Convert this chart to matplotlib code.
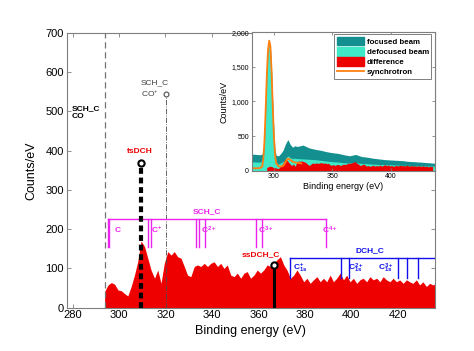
"""Difference spectrum with charge-state brackets, inset of the raw beams."""

import matplotlib
matplotlib.use("Agg")
import matplotlib.pyplot as plt
from matplotlib.patches import Patch
from matplotlib.lines import Line2D
from matplotlib.ticker import FuncFormatter

plt.rcParams["font.family"] = ["Liberation Sans", "DejaVu Sans"]
plt.rcParams["mathtext.fontset"] = "custom"
plt.rcParams["mathtext.rm"] = "Liberation Sans"
plt.rcParams["mathtext.it"] = "Liberation Sans:italic"
plt.rcParams["mathtext.bf"] = "Liberation Sans:bold"

# main difference spectrum (counts/eV)
energy = [293.8, 295.3, 296.7, 298.1, 299.6, 301.0, 302.4, 303.8, 305.3, 306.7,
          308.1, 309.5, 311.0, 312.4, 313.8, 315.3, 316.7, 318.1, 319.5, 321.0,
          322.4, 323.8, 325.2, 326.7, 328.1, 329.5, 330.9, 332.4, 333.8, 335.2,
          336.7, 338.1, 339.5, 340.9, 342.4, 343.8, 345.2, 346.6, 348.1, 349.5,
          350.9, 352.4, 353.8, 355.2, 356.6, 358.1, 359.5, 360.9, 362.3, 363.8,
          365.2, 366.6, 368.0, 369.5, 370.9, 372.3, 373.8, 375.2, 376.6, 378.0,
          379.5, 380.9, 382.3, 383.7, 385.2, 386.6, 388.0, 389.4, 390.9, 392.3,
          393.7, 395.2, 396.6, 398.0, 399.4, 400.9, 402.3, 403.7, 405.1, 406.6,
          408.0, 409.4, 410.9, 412.3, 413.7, 415.1, 416.6, 418.0, 419.4, 420.8,
          422.3, 423.7, 425.1, 426.5, 428.0, 429.4, 430.8, 432.3, 433.7, 435.1,
          436.0]
diff = [41, 58, 64, 60, 45, 43, 36, 30, 55, 84,
        118, 170, 156, 126, 96, 75, 96, 62, 113, 143,
        134, 143, 130, 126, 105, 83, 79, 105, 109, 105,
        113, 105, 113, 117, 105, 113, 100, 109, 83, 79,
        88, 75, 88, 92, 75, 83, 96, 88, 96, 109,
        105, 113, 122, 130, 109, 96, 75, 83, 96, 83,
        66, 75, 62, 71, 79, 66, 75, 66, 83, 66,
        75, 88, 71, 83, 66, 75, 62, 71, 75, 66,
        79, 71, 75, 66, 79, 71, 66, 75, 66, 71,
        62, 71, 66, 62, 71, 58, 66, 54, 62, 58,
        60]

# inset beams
beam_e = [281, 285, 288, 290, 291, 292, 293, 294, 295, 296, 297, 298, 299, 300,
          301, 302, 304, 306, 308, 310, 312, 314, 316, 318, 320, 325, 330, 335,
          340, 345, 350, 355, 360, 365, 370, 375, 380, 385, 390, 395, 400, 405,
          410, 415, 420, 425, 430, 438]
focused = [240, 235, 230, 240, 300, 520, 950, 1430, 1760, 1870, 1810, 1480, 1000,
           560, 300, 220, 215, 250, 300, 390, 450, 380, 340, 360, 350, 370, 330,
           310, 295, 275, 260, 250, 230, 215, 235, 205, 195, 180, 170, 160, 155,
           150, 145, 135, 130, 125, 118, 108]
defocused = [130, 125, 125, 135, 200, 420, 870, 1380, 1730, 1850, 1780, 1440, 950,
             500, 220, 110, 95, 115, 135, 180, 215, 190, 175, 180, 175, 170, 165,
             160, 150, 140, 130, 125, 115, 110, 115, 105, 100, 95, 90, 88, 85,
             80, 78, 75, 72, 70, 68, 65]
sync_e = [281, 285, 288, 290, 291, 292, 293, 294, 295, 296, 297, 298, 299, 300,
          301, 302, 304, 306, 308, 310, 312, 314, 316, 318, 320, 323.5]
sync = [35, 35, 38, 60, 180, 450, 900, 1400, 1750, 1880, 1800, 1450, 950, 500,
        220, 110, 62, 60, 70, 120, 175, 160, 130, 120, 115, 105]

# bracket lines
sch_ticks = [295.2, 295.8, 312.4, 313.8, 333.1, 334.5, 337.0, 359.0, 361.6, 389.2]
sch_labels = [(299.5, r"$\mathbf{C}$"), (316.0, r"$\mathbf{C^{+}}$"),
              (338.5, r"$\mathbf{C^{2+}}$"), (363.0, r"$\mathbf{C^{3+}}$"),
              (390.5, r"$\mathbf{C^{4+}}$")]
dch_ticks = [373.5, 395.6, 398.8, 420.2, 424.0, 428.8]
dch_labels = [(378.0, r"$\mathbf{C^{+}_{1s}}$"), (402.0, r"$\mathbf{C^{2+}_{1s}}$"),
              (415.0, r"$\mathbf{C^{3+}_{1s}}$")]

SPINE = "#7f7f7f"
RED = "#ee0000"
MAG = "#ee22ee"
BLUE = "#1010ee"


def style_box(ax, size):
    for s in ax.spines.values():
        s.set_color(SPINE)
        s.set_linewidth(0.8)
    ax.tick_params(direction="in", top=True, right=True, length=3,
                   width=0.6, color=SPINE, labelsize=size, pad=2)


fig = plt.figure(figsize=(4.74, 3.51), dpi=100)
ax = fig.add_axes([0.1407, 0.1234, 0.777, 0.7826])
style_box(ax, 8)
ax.fill_between(energy, diff, 0, color=RED, lw=0, zorder=2)
ax.set_xlim(277.5, 436)
ax.set_ylim(0, 700)
ax.set_xticks(range(280, 421, 20))
ax.set_yticks(range(0, 701, 100))
ax.set_xlabel("Binding energy (eV)", fontsize=9, labelpad=3)
ax.set_ylabel("Counts/eV", fontsize=9, labelpad=6)

# reference lines
ax.plot([293.9, 293.9], [0, 700], ls=(0, (5, 3)), color="0.45", lw=0.9, zorder=3)
ax.plot([320.3, 320.3], [0, 540], ls="-.", color="0.3", lw=0.6, zorder=3)
ax.plot([320.3], [544], "o", ms=3.5, mfc="white", mec="0.3", mew=0.8, zorder=4)
ax.text(279.5, 497, "SCH_C\nCO", fontsize=6, fontweight="bold", ha="left",
        va="center", linespacing=1.2)
ax.text(309.5, 556, "SCH_C\nCO$^{+}$", fontsize=6, color="0.25", ha="left",
        va="center", linespacing=1.3)

ax.plot([309.6, 309.6], [0, 362], ls=(0, (1.4, 0.9)), color="black", lw=3,
        zorder=5)
ax.plot([309.6], [368], "o", ms=4.5, mfc="white", mec="black", mew=1.5, zorder=6)
ax.text(309.0, 397, "tsDCH", fontsize=6, fontweight="bold", color=RED,
        ha="center", va="center")
ax.plot([366.8, 366.8], [0, 105], color="black", lw=2.2, zorder=5)
ax.plot([366.8], [109], "o", ms=4.5, mfc="white", mec="black", mew=1.5, zorder=6)
ax.text(361.0, 134, "ssDCH_C", fontsize=6, fontweight="bold", color=RED,
        ha="center", va="center")

# SCH_C bracket
ax.plot([sch_ticks[0], sch_ticks[-1]], [225, 225], color=MAG, lw=1.0, zorder=4)
for t in sch_ticks:
    ax.plot([t, t], [225, 155], color=MAG, lw=1.0, zorder=4)
for x, s in sch_labels:
    ax.text(x, 198, s, fontsize=6, color=MAG, ha="center", va="center")
ax.text(338.0, 245, "SCH_C", fontsize=6, fontweight="bold", color=MAG,
        ha="center", va="center")

# DCH_C bracket
ax.plot([dch_ticks[0], 436], [126, 126], color=BLUE, lw=1.0, zorder=4)
for t in dch_ticks:
    ax.plot([t, t], [126, 75], color=BLUE, lw=1.0, zorder=4)
for x, s in dch_labels:
    ax.text(x, 101, s, fontsize=6, color=BLUE, ha="center", va="center")
ax.text(408.0, 145, "DCH_C", fontsize=6, fontweight="bold", color=BLUE,
        ha="center", va="center")

# inset
ins = fig.add_axes([0.531, 0.5137, 0.3867, 0.3943])
style_box(ins, 5)
ins.tick_params(length=2)
ins.fill_between(beam_e, focused, 0, color="#138f8f", lw=0)
ins.fill_between(beam_e, defocused, 0, color="#3fe8c6", lw=0)
ins.fill_between(energy, diff, 0, color=RED, lw=0)
ins.plot(sync_e, sync, color="#ff8010", lw=1.3)
ins.set_xlim(281, 438)
ins.set_ylim(0, 2000)
ins.set_xticks([300, 350, 400])
ins.set_yticks(range(0, 2001, 500))
ins.yaxis.set_major_formatter(FuncFormatter(lambda v, p: f"{int(v):,}"))
ins.set_xlabel("Binding energy (eV)", fontsize=6.5, labelpad=1)
ins.set_ylabel("Counts/eV", fontsize=6.5, labelpad=2)

handles = [Patch(color="#138f8f", label="focused beam"),
           Patch(color="#3fe8c6", label="defocused beam"),
           Patch(color=RED, label="difference"),
           Line2D([], [], color="#ff8010", lw=1.3, label="synchrotron")]
leg = ins.legend(handles=handles, loc="upper right", bbox_to_anchor=(0.98, 0.985),
                 borderaxespad=0, prop={"weight": "bold", "size": 5.7},
                 handlelength=3.4, handleheight=1.3, handletextpad=0.4,
                 labelspacing=0.15, borderpad=0.3, fancybox=False,
                 edgecolor=SPINE, framealpha=1)
leg.get_frame().set_linewidth(0.7)

fig.savefig("out.png", dpi=100)
